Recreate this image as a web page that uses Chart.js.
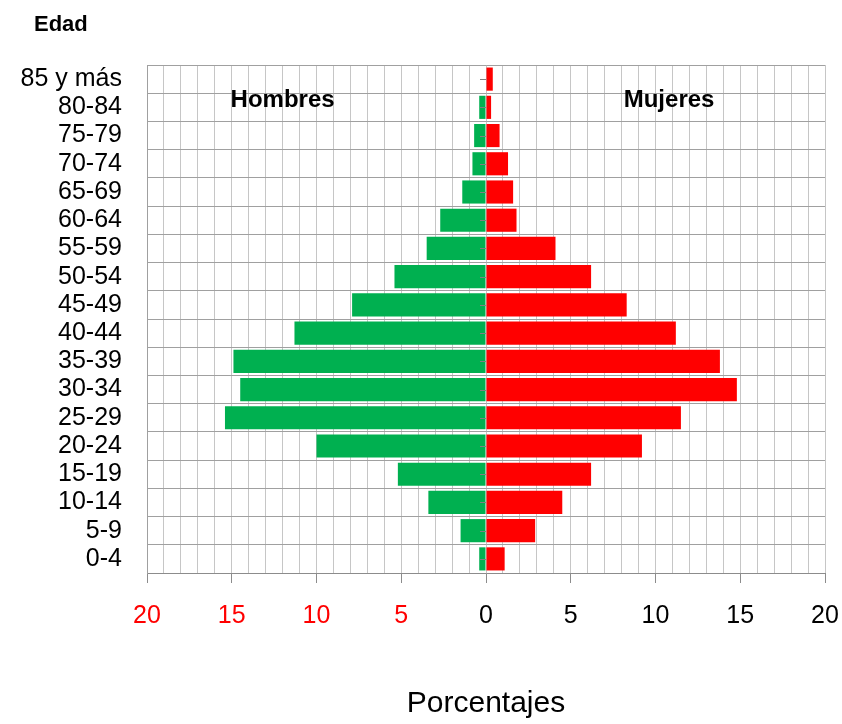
<!DOCTYPE html>
<html>
<head>
<meta charset="utf-8">
<script src="https://cdn.jsdelivr.net/npm/chart.js@4/dist/chart.umd.min.js"></script>
<style>
  html, body { margin: 0; padding: 0; background: #fff; }
  #wrap { width: 842px; height: 724px; }
</style>
</head>
<body>
<div id="wrap"><canvas id="piramide"></canvas></div>
<script>
var edades = ["85 y más", "80-84", "75-79", "70-74", "65-69", "60-64", "55-59", "50-54", "45-49",
              "40-44", "35-39", "30-34", "25-29", "20-24", "15-19", "10-14", "5-9", "0-4"];
var hombres = [0, 0.4, 0.7, 0.8, 1.4, 2.7, 3.5, 5.4, 7.9, 11.3, 14.9, 14.5, 15.4, 10.0, 5.2, 3.4, 1.5, 0.4];
var mujeres = [0.4, 0.3, 0.8, 1.3, 1.6, 1.8, 4.1, 6.2, 8.3, 11.2, 13.8, 14.8, 11.5, 9.2, 6.2, 4.5, 2.9, 1.1];
var xMin = -20, xMax = 20;

var FONT = "'Liberation Sans', Arial, sans-serif";

// textos sueltos: Edad, Hombres, Mujeres + marcas pequeñas sobre el eje 0
var textos = {
    id: "textos",
    afterDatasetsDraw: function (chart) {
        var ctx = chart.ctx;
        var x = chart.scales.x, y = chart.scales.y;
        var x0 = x.getPixelForValue(0);
        ctx.save();
        ctx.strokeStyle = "#808080";
        ctx.lineWidth = 1;
        for (var i = 0; i < edades.length; i++) {
            var py = Math.round(y.getPixelForValue(i)) + 0.5;
            ctx.beginPath();
            ctx.moveTo(x0 - 6, py);
            ctx.lineTo(x0, py);
            ctx.stroke();
        }
        ctx.fillStyle = "#000";
        ctx.textBaseline = "alphabetic";
        ctx.font = "bold 24px " + FONT;
        ctx.textAlign = "center";
        ctx.fillText("Hombres", x.getPixelForValue(-12), chart.chartArea.top + 42);
        ctx.fillText("Mujeres", x.getPixelForValue(10.8), chart.chartArea.top + 42);
        ctx.font = "bold 22px " + FONT;
        ctx.textAlign = "left";
        ctx.fillText("Edad", 34, 31);
        ctx.restore();
    }
};

new Chart(document.getElementById("piramide").getContext("2d"), {
    type: "bar",
    data: {
        labels: edades,
        datasets: [{
            label: "Hombres",
            data: hombres.map(function (v) { return -v; }),
            backgroundColor: "#00b050",
            barPercentage: 0.82,
            categoryPercentage: 1
        }, {
            label: "Mujeres",
            data: mujeres,
            backgroundColor: "#ff0000",
            barPercentage: 0.82,
            categoryPercentage: 1
        }]
    },
    options: {
        indexAxis: "y",
        responsive: true,
        maintainAspectRatio: false,
        animation: false,
        layout: { padding: { top: 65, right: 17, left: 0, bottom: 0 } },
        plugins: {
            legend: { display: false },
            tooltip: { enabled: false }
        },
        scales: {
            x: {
                stacked: true,
                min: xMin,
                max: xMax,
                afterFit: function (scale) {
                    scale.height = 151;
                    scale.paddingLeft = 0;
                    scale.paddingRight = 0;
                },
                border: { color: "#8c8c8c", width: 1 },
                grid: {
                    color: "#c6c6c6",
                    lineWidth: 1,
                    tickLength: 10,
                    tickColor: function (c) {
                        return (c.tick && c.tick.value % 5 === 0) ? "#8c8c8c" : "rgba(0,0,0,0)";
                    }
                },
                ticks: {
                    stepSize: 1,
                    autoSkip: false,
                    maxRotation: 0,
                    padding: 18,
                    font: { family: FONT, size: 25 },
                    color: function (c) { return c.tick.value < 0 ? "#ff0000" : "#000000"; },
                    callback: function (v) { return v % 5 === 0 ? String(Math.abs(v)) : ""; }
                },
                title: {
                    display: true,
                    text: "Porcentajes",
                    color: "#000",
                    font: { family: FONT, size: 30 },
                    padding: { top: 0, bottom: 2 }
                }
            },
            y: {
                stacked: true,
                afterFit: function (scale) { scale.width = 147; },
                border: { color: "#a0a0a0", width: 1 },
                grid: {
                    color: "#a0a0a0",
                    lineWidth: 1,
                    drawTicks: false
                },
                ticks: {
                    autoSkip: false,
                    padding: 25,
                    color: "#000",
                    font: { family: FONT, size: 25 }
                }
            }
        }
    },
    plugins: [textos]
});
</script>
</body>
</html>
